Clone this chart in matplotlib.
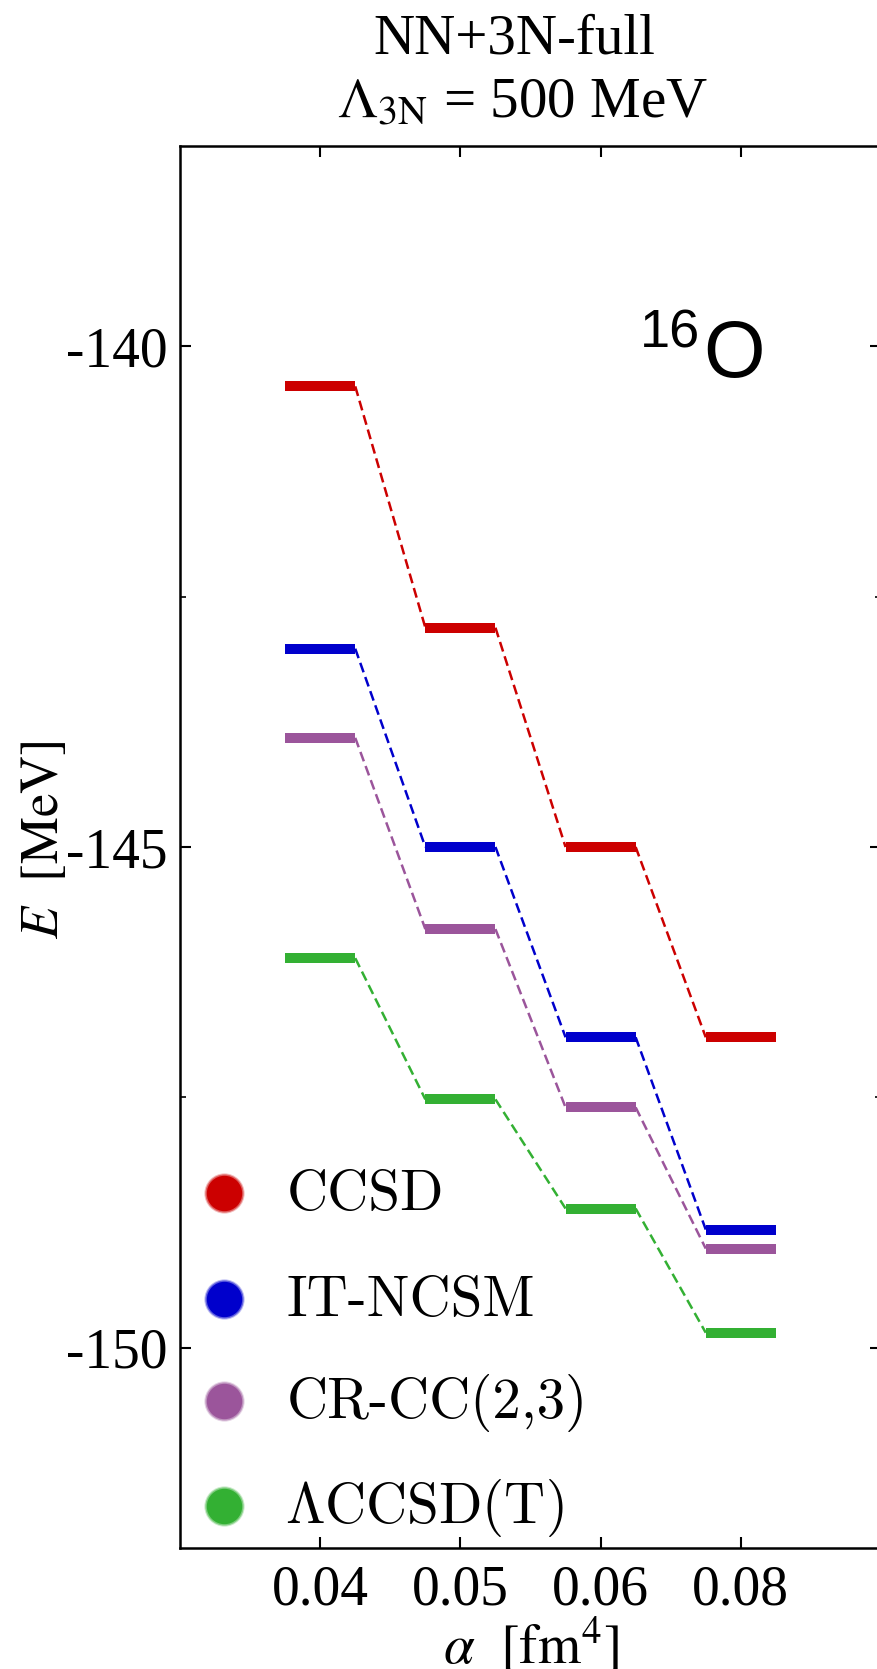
import numpy as np
import matplotlib
matplotlib.use('Agg')
import matplotlib.pyplot as plt

plt.rcParams['font.family'] = ['Liberation Serif', 'DejaVu Serif']
plt.rcParams['mathtext.fontset'] = 'stix'
plt.rcParams['axes.unicode_minus'] = False

# ground-state energies of 16O vs SRG parameter alpha
alpha_labels = ['0.04', '0.05', '0.06', '0.08']
E_ccsd = [-140.40, -142.81, -145.00, -146.90]
E_itncsm = [-143.02, -145.00, -146.90, -148.82]
E_crcc = [-143.91, -145.82, -147.60, -149.01]
E_lccsdt = [-146.11, -147.52, -148.61, -149.85]

methods = ['CCSD', 'IT-NCSM', 'CR-CC(2,3)', r'$\Lambda\mathrm{CCSD(T)}$']
colors = ['#cc0000', '#0000cc', '#9b559b', '#33b033']
series = [E_ccsd, E_itncsm, E_crcc, E_lccsdt]

W, H = 878, 1669
fig = plt.figure(figsize=(W / 100.0, H / 100.0), dpi=100)

def px(x, y):
    return x / float(W), 1 - y / float(H)

ax = fig.add_axes([180.0 / W, 1 - 1548.0 / H, 701.0 / W, 1402.0 / H])

pos = np.arange(1, len(alpha_labels) + 1)
hw = 0.25
for E, c in zip(series, colors):
    for i in range(len(pos)):
        ax.plot([pos[i] - hw, pos[i] + hw], [E[i], E[i]], color=c, lw=7.2,
                solid_capstyle='butt', zorder=3)
        if i < len(pos) - 1:
            ax.plot([pos[i] + hw, pos[i + 1] - hw], [E[i], E[i + 1]], color=c,
                    lw=1.8, dashes=(4, 2), zorder=2)

ax.set_xlim(0, 5)
ax.set_ylim(-152, -138)
ax.set_xticks(pos)
ax.set_xticklabels(alpha_labels)
ax.set_yticks([-150, -145, -140])
ax.set_yticks([-147.5, -142.5], minor=True)
ax.tick_params(axis='both', which='major', direction='in', length=8, width=1.5,
               labelsize=40, top=True, right=True)
ax.tick_params(axis='y', which='major', pad=9)
ax.tick_params(axis='x', which='major', pad=12)
ax.tick_params(axis='y', which='minor', direction='in', length=4, width=1.2,
               right=True)
for s in ax.spines.values():
    s.set_linewidth(1.8)

ax.set_xlabel(r'$\alpha\ \ [\mathrm{fm}^4]$', fontsize=40, labelpad=-1)
fig.text(*px(45, 840), r'$E\ \ [\mathrm{MeV}]$', fontsize=38, rotation=90,
         ha='center', va='center')

# title
fig.text(*px(514, 53), 'NN+3N-full', fontsize=41, ha='center', va='baseline')
fig.text(*px(523, 117), r'$\Lambda_{\mathrm{3N}}$ = 500 MeV', fontsize=41,
         ha='center', va='baseline')

# nucleus label
fig.text(*px(640, 348), '16', fontsize=39, family='Liberation Sans',
         ha='left', va='baseline')
fig.text(*px(703, 377), 'O', fontsize=57, family='Liberation Sans',
         ha='left', va='baseline')

# legend with soft dots
leg_y = [1193, 1299, 1401, 1506]
for k, (yy, lab, c) in enumerate(zip(leg_y, methods, colors)):
    for ms, a in [(29, 0.25), (27.5, 0.5), (25.5, 1.0)]:
        ax.plot([px(224, yy)[0]], [px(224, yy)[1]], 'o', color=c, ms=ms,
                mec='none', alpha=a, transform=fig.transFigure, clip_on=False)
    if lab.startswith('$'):
        fig.text(*px(285, yy + 2), lab, fontsize=41, ha='left', va='center',
                 math_fontfamily='cm')
    else:
        fig.text(*px(287, yy + 2), lab, fontsize=41, ha='left', va='center',
                 family='cmr10')

plt.savefig('out.png', dpi=100)
